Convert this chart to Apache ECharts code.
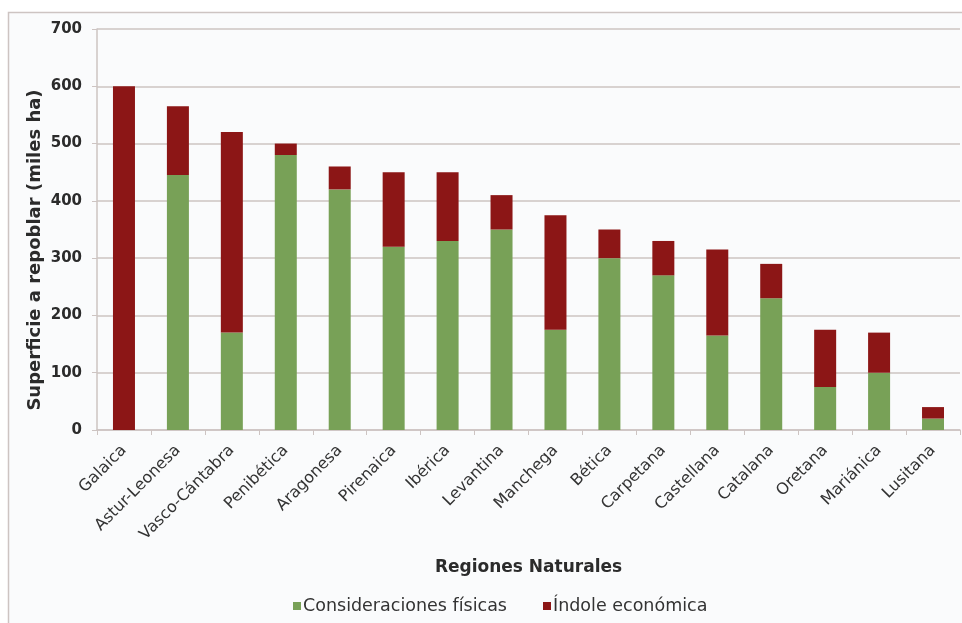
<!DOCTYPE html>
<html>
<head>
<meta charset="utf-8">
<script src="https://cdn.jsdelivr.net/npm/echarts@6/dist/echarts.min.js"></script>
<style>
  html, body { margin: 0; padding: 0; background: #ffffff; }
  #chart { width: 962px; height: 623px; }
</style>
</head>
<body>
<div id="chart"></div>
<script>
// Natural regions and the area to reforest (thousand ha), split by motive
const regiones = ['Galaica', 'Astur-Leonesa', 'Vasco-Cántabra', 'Penibética', 'Aragonesa',
  'Pirenaica', 'Ibérica', 'Levantina', 'Manchega', 'Bética', 'Carpetana', 'Castellana',
  'Catalana', 'Oretana', 'Mariánica', 'Lusitana'];
const fisicas = [0, 445, 170, 480, 420, 320, 330, 350, 175, 300, 270, 165, 230, 75, 100, 20];
const economica = [600, 120, 350, 20, 40, 130, 120, 60, 200, 50, 60, 150, 60, 100, 70, 20];
const yTicks = [0, 100, 200, 300, 400, 500, 600, 700];

const green = '#78a157';
const red = '#8c1616';
const lineColor = '#cdc4c2';
const textColor = '#2b2b2b';

const chart = echarts.init(document.getElementById('chart'));
chart.setOption({
  animation: false,
  backgroundColor: '#ffffff',
  textStyle: { fontFamily: 'DejaVu Sans' },
  graphic: [
    {
      type: 'rect', z: -10, silent: true,
      shape: { x: 8.5, y: 12.5, width: 970, height: 640 },
      style: { fill: '#fafbfc', stroke: lineColor, lineWidth: 1.5 }
    },
    {
      type: 'text', silent: true,
      x: 35, y: 250, rotation: Math.PI / 2,
      style: {
        text: 'Superficie a repoblar (miles ha)',
        fontFamily: 'DejaVu Sans', fontWeight: 'bold', fontSize: 18,
        fill: textColor, align: 'center', verticalAlign: 'middle'
      }
    }
  ],
  grid: { left: 97, right: 2, top: 29, bottom: 193 },
  legend: {
    bottom: 3, left: 288,
    itemWidth: 8, itemHeight: 8, itemGap: 36,
    icon: 'rect',
    textStyle: { fontFamily: 'DejaVu Sans', fontSize: 17.5, color: '#333333', padding: [0, 0, 0, -3] },
    data: ['Consideraciones físicas', 'Índole económica']
  },
  xAxis: {
    type: 'category',
    data: regiones,
    name: 'Regiones Naturales',
    nameLocation: 'middle',
    nameGap: 129,
    nameTextStyle: { fontFamily: 'DejaVu Sans', fontWeight: 'bold', fontSize: 17, color: textColor },
    axisLine: { lineStyle: { color: lineColor, width: 1.5 } },
    axisTick: { show: true, alignWithLabel: false, length: 5, lineStyle: { color: lineColor } },
    axisLabel: {
      rotate: 45, interval: 0, margin: 18,
      fontFamily: 'DejaVu Sans', fontSize: 16, color: '#333333'
    }
  },
  yAxis: {
    type: 'value',
    min: 0, max: 700, interval: 100,
    axisLine: { show: true, lineStyle: { color: lineColor, width: 1.5 } },
    axisTick: { show: true, length: 5, lineStyle: { color: lineColor } },
    splitLine: { lineStyle: { color: lineColor, width: 1.5 } },
    axisLabel: {
      margin: 15,
      fontFamily: 'DejaVu Sans', fontWeight: 'bold', fontSize: 15, color: textColor,
      formatter: v => (yTicks.indexOf(v) >= 0 ? String(v) : '')
    }
  },
  series: [
    {
      name: 'Consideraciones físicas', type: 'bar', stack: 'total',
      data: fisicas, barWidth: 22,
      itemStyle: { color: green }
    },
    {
      name: 'Índole económica', type: 'bar', stack: 'total',
      data: economica, barWidth: 22,
      itemStyle: { color: red }
    }
  ]
});
</script>
</body>
</html>
